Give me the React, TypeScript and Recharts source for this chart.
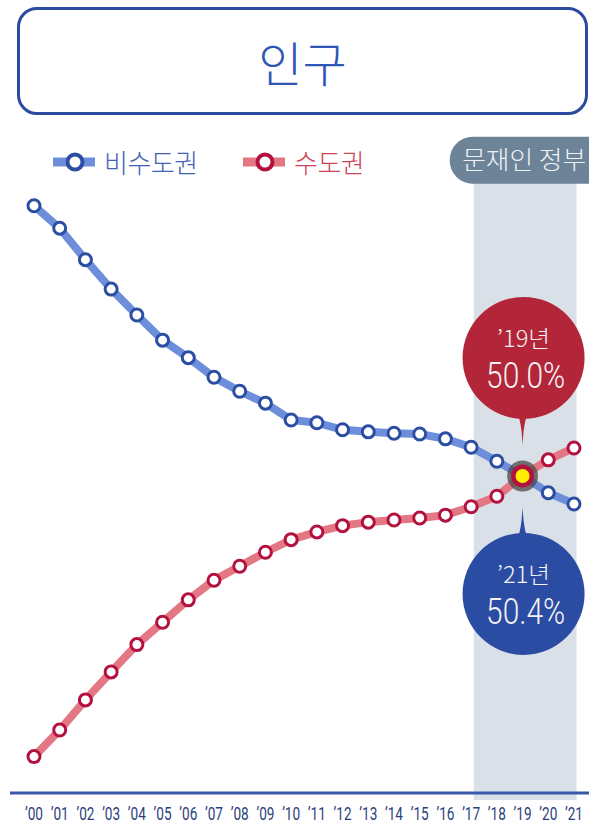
import React from 'react';
import { LineChart, Line, XAxis, YAxis, ReferenceArea, ReferenceDot } from 'recharts';

const years = [2000, 2001, 2002, 2003, 2004, 2005, 2006, 2007, 2008, 2009, 2010, 2011, 2012, 2013, 2014, 2015, 2016, 2017, 2018, 2019, 2020, 2021];
const tickLabels = ['’00', '’01', '’02', '’03', '’04', '’05', '’06', '’07', '’08', '’09', '’10', '’11', '’12', '’13', '’14', '’15', '’16', '’17', '’18', '’19', '’20', '’21'];
// 비수도권 (non-capital region) share of population, %
const nonCapital = [53.86, 53.54, 53.09, 52.67, 52.3, 51.94, 51.69, 51.41, 51.21, 51.04, 50.8, 50.76, 50.66, 50.63, 50.61, 50.6, 50.53, 50.41, 50.21, 50.0, 49.76, 49.6];
// 수도권 (capital region) share of population, %
const capital = [45.99, 46.37, 46.8, 47.2, 47.59, 47.91, 48.23, 48.51, 48.71, 48.91, 49.09, 49.2, 49.29, 49.34, 49.37, 49.4, 49.44, 49.56, 49.71, 50.0, 50.23, 50.4];

const titleText = '인구';
const seriesNames = { nonCapital: '비수도권', capital: '수도권' };
const periodLabel = '문재인 정부';
const periodStart = 2017.1;
const periodEnd = 2021.1;
const crossYear = 2019;
const latestYear = 2021;

const data = years.map((y, i) => ({ year: y, label: tickLabels[i], nonCapital: nonCapital[i], capital: capital[i] }));

const BLUE_LINE = '#6d8fdb';
const BLUE_DOT = '#2b4ea2';
const RED_LINE = '#e47784';
const RED_DOT = '#b3123f';
const FONT = '"Noto Sans CJK KR", "Noto Sans", sans-serif';

const crossVal = capital[years.indexOf(crossYear)];
const latestVal = capital[years.indexOf(latestYear)];

const Tick = (props: any) => {
  const { x, y, payload } = props;
  const idx = years.indexOf(payload.value);
  return (
    <text x={x} y={y + 27} textAnchor="middle" fontSize={19} fill="#2c3f7c" fontFamily="Roboto, sans-serif"
      textLength={18} lengthAdjust="spacingAndGlyphs">
      {tickLabels[idx]}
    </text>
  );
};

const BandShape = (props: any) => {
  const { x, y, width, height } = props;
  return (
    <g>
      <rect x={x} y={y} width={width} height={height} fill="#d9e0e7" />
      <rect x={x - 24} y={y - 46} width={width + 60} height={47} rx={23} ry={23} fill="#6c8398" />
      <text x={x + width / 2 - 1} y={y - 14} textAnchor="middle" fontSize={24.5} fill="#eef2f6" fontFamily={FONT}
        fontWeight={300} textLength={124} lengthAdjust="spacingAndGlyphs">
        {periodLabel}
      </text>
    </g>
  );
};

const Callout = ({ cx, cy, dir, color, top, bottom }: any) => {
  const c = cy + dir * 118;
  const tip = cy + dir * 31;
  const base = c - dir * 56;
  return (
    <g>
      <path d={`M ${cx - 12} ${base} Q ${cx - 2} ${base + dir * 10} ${cx} ${tip} Q ${cx + 2} ${base + dir * 10} ${cx + 12} ${base} Z`} fill={color} />
      <circle cx={cx + 1} cy={c} r={61} fill={color} />
      <text x={cx + 1} y={c - 11} textAnchor="middle" fontSize={23} fill="#f3f3f3" fontFamily={FONT} fontWeight={300}
        textLength={53} lengthAdjust="spacingAndGlyphs">{top}</text>
      <text x={cx + 3} y={c + 30} textAnchor="middle" fontSize={36} fill="#f3f3f3" fontFamily="Roboto, sans-serif" fontWeight={300}
        textLength={79} lengthAdjust="spacingAndGlyphs">{bottom}</text>
    </g>
  );
};

const CrossMarker = ({ cx, cy }: any) => (
  <g>
    <circle cx={cx} cy={cy} r={15.5} fill="#4a4a4a" fillOpacity={0.75} />
    <circle cx={cx} cy={cy} r={11.5} fill="#b3123f" />
    <circle cx={cx} cy={cy} r={7} fill="#ffee00" />
  </g>
);

const LegendItem = ({ left, lineColor, dotColor, textColor, text }: any) => (
  <div style={{ position: 'absolute', left, top: 145, height: 34, display: 'flex', alignItems: 'center' }}>
    <svg width={44} height={34} style={{ display: 'block' }}>
      <line x1={0} y1={17} x2={42} y2={17} stroke={lineColor} strokeWidth={9} />
      <circle cx={22} cy={17} r={7.5} fill="#fff" stroke={dotColor} strokeWidth={4} />
    </svg>
    <span style={{ marginLeft: 7, fontSize: 26, color: textColor, fontFamily: FONT, fontWeight: 300, lineHeight: '34px', letterSpacing: -0.5 }}>{text}</span>
  </div>
);

export default function App() {
  return (
    <div style={{ position: 'absolute', left: 0, top: 0, width: 589, height: 830, background: '#fff', overflow: 'hidden' }}>
      <div style={{
        position: 'absolute', left: 17, top: 7, width: 571, height: 108, boxSizing: 'border-box',
        border: '3.5px solid #2b4ba0', borderRadius: 20, display: 'flex', alignItems: 'center', justifyContent: 'center',
      }}>
        <span style={{ fontSize: 48, color: '#2f56b4', fontFamily: FONT, fontWeight: 300, lineHeight: 1 }}>{titleText}</span>
      </div>
      <LineChart width={589} height={830} data={data} margin={{ top: 161, right: 0, bottom: 7, left: 10 }}
        style={{ position: 'absolute', left: 0, top: 0 }}>
        <ReferenceArea x1={periodStart} x2={periodEnd} y1={45.37} y2={54.19} ifOverflow="visible" shape={<BandShape />} />
        <XAxis dataKey="year" type="number" domain={[2000, 2021]} ticks={years} interval={0}
          padding={{ left: 24, right: 15 }} height={30} tickLine={false} tickSize={0} tickMargin={0}
          axisLine={{ stroke: '#3a58a8', strokeWidth: 3 }} tick={<Tick />} />
        <YAxis hide type="number" domain={[45.47, 54.5]} allowDataOverflow />
        <Line dataKey="nonCapital" name={seriesNames.nonCapital} stroke={BLUE_LINE} strokeWidth={8} isAnimationActive={false}
          dot={{ r: 6, stroke: BLUE_DOT, strokeWidth: 3, fill: '#fff' }} activeDot={false} />
        <Line dataKey="capital" name={seriesNames.capital} stroke={RED_LINE} strokeWidth={8} isAnimationActive={false}
          dot={{ r: 6, stroke: RED_DOT, strokeWidth: 3, fill: '#fff' }} activeDot={false} />
        <ReferenceDot x={crossYear} y={crossVal} r={1} ifOverflow="visible"
          shape={(p: any) => <Callout cx={p.cx} cy={p.cy} dir={-1} color="#b3263a"
            top={`’${String(crossYear).slice(2)}년`} bottom={`${crossVal.toFixed(1)}%`} />} />
        <ReferenceDot x={crossYear} y={crossVal} r={1} ifOverflow="visible"
          shape={(p: any) => <Callout cx={p.cx} cy={p.cy} dir={1} color="#2b4ca3"
            top={`’${String(latestYear).slice(2)}년`} bottom={`${latestVal.toFixed(1)}%`} />} />
        <ReferenceDot x={crossYear} y={crossVal} r={1} ifOverflow="visible" shape={(p: any) => <CrossMarker cx={p.cx} cy={p.cy} />} />
      </LineChart>
      <LegendItem left={53} lineColor={BLUE_LINE} dotColor={BLUE_DOT} textColor="#4262b6" text={seriesNames.nonCapital} />
      <LegendItem left={243} lineColor={RED_LINE} dotColor={RED_DOT} textColor="#cf4357" text={seriesNames.capital} />
    </div>
  );
}
